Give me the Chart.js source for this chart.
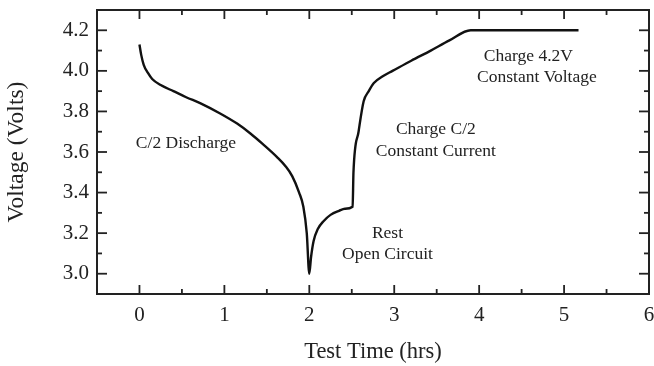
<!DOCTYPE html>
<html>
<head>
<meta charset="utf-8">
<script src="https://cdn.jsdelivr.net/npm/chart.js@4/dist/chart.umd.min.js"></script>
<style>
  html, body { margin: 0; padding: 0; background: #fff; }
  #wrap { width: 654px; height: 366px; }
</style>
</head>
<body>
<div id="wrap"><canvas id="c" width="654" height="366"></canvas></div>
<script>
// ---- data ----
const timeHrs = [0, 0.02, 0.05, 0.1, 0.15, 0.25, 0.4, 0.55, 0.72, 0.95, 1.15, 1.31, 1.45, 1.62, 1.72, 1.8, 1.88, 1.93, 1.97, 2.0,
                 2.02, 2.05, 2.1, 2.17, 2.25, 2.35, 2.42, 2.51, 2.52, 2.58, 2.64, 2.7, 2.76, 2.87, 2.98, 3.2, 3.43, 3.65, 3.9, 5.17];
const voltage = [4.13, 4.08, 4.03, 3.99, 3.96, 3.93, 3.90, 3.87, 3.84, 3.79, 3.74, 3.69, 3.64, 3.575, 3.53, 3.48, 3.40, 3.33, 3.2, 3.0,
                 3.08, 3.16, 3.22, 3.26, 3.29, 3.31, 3.32, 3.33, 3.50, 3.70, 3.85, 3.90, 3.94, 3.975, 4.0, 4.05, 4.10, 4.15, 4.2, 4.2];
const xTickValues = [0, 1, 2, 3, 4, 5, 6];
const yTickValues = [3.0, 3.2, 3.4, 3.6, 3.8, 4.0, 4.2];
const noteTexts = ['C/2 Discharge', 'Rest', 'Open Circuit', 'Charge C/2', 'Constant Current', 'Charge 4.2V', 'Constant Voltage'];
const noteX = [0.548, 2.92, 2.92, 3.49, 3.49, 4.58, 4.68];
const noteY = [3.643, 3.20, 3.094, 3.712, 3.603, 4.072, 3.966];

const INK = '#222';
const SERIF = '"Liberation Serif", "Times New Roman", serif';

const frameTicks = {
  id: 'frameTicks',
  afterDatasetsDraw(chart) {
    const { ctx, chartArea: a, scales: { x, y } } = chart;
    ctx.save();
    ctx.strokeStyle = INK;
    ctx.lineWidth = 2;
    ctx.beginPath();
    ctx.rect(a.left, a.top, a.right - a.left, a.bottom - a.top);
    ctx.stroke();
    ctx.lineWidth = 1.8;
    const seg = (x1, y1, x2, y2) => { ctx.beginPath(); ctx.moveTo(x1, y1); ctx.lineTo(x2, y2); ctx.stroke(); };
    const xs = [];
    xTickValues.forEach(v => xs.push([v, true]));
    xs.push([xTickValues[0] - 0.5, false]);
    for (let i = 0; i < xTickValues.length - 1; i++) xs.push([(xTickValues[i] + xTickValues[i + 1]) / 2, false]);
    xs.forEach(([v, major]) => {
      const px = x.getPixelForValue(v);
      if (px < a.left - 0.5 || px > a.right + 0.5) return;
      const L = major ? 9 : 5;
      seg(px, a.bottom, px, a.bottom - L);
      seg(px, a.top, px, a.top + L);
    });
    const ys = [];
    yTickValues.forEach(v => ys.push([v, true]));
    for (let i = 0; i < yTickValues.length - 1; i++) ys.push([(yTickValues[i] + yTickValues[i + 1]) / 2, false]);
    ys.push([yTickValues[yTickValues.length - 1] + 0.1, false]);
    ys.forEach(([v, major]) => {
      const py = y.getPixelForValue(v);
      if (py < a.top - 0.5 || py > a.bottom + 0.5) return;
      const L = major ? 10 : 5;
      seg(a.left, py, a.left + L, py);
      seg(a.right, py, a.right - L, py);
    });
    ctx.fillStyle = INK;
    ctx.font = '17.5px ' + SERIF;
    ctx.textAlign = 'center';
    ctx.textBaseline = 'middle';
    noteTexts.forEach((t, i) => ctx.fillText(t, x.getPixelForValue(noteX[i]), y.getPixelForValue(noteY[i])));
    ctx.restore();
  }
};

new Chart(document.getElementById('c'), {
  type: 'line',
  data: {
    datasets: [{
      data: timeHrs.map((t, i) => ({ x: t, y: voltage[i] })),
      borderColor: '#111',
      borderWidth: 2.4,
      pointRadius: 0,
      cubicInterpolationMode: 'monotone',
      fill: false
    }]
  },
  options: {
    responsive: false,
    animation: false,
    devicePixelRatio: 1,
    layout: { padding: { top: 10, right: 5, left: 0, bottom: 0 } },
    plugins: { legend: { display: false }, tooltip: { enabled: false } },
    scales: {
      x: {
        type: 'linear',
        min: -0.5, max: 6,
        afterBuildTicks: s => { s.ticks = xTickValues.map(v => ({ value: v })); },
        afterFit: s => { s.height = 72; s.paddingLeft = 0; s.paddingRight = 0; },
        grid: { display: false, drawTicks: false },
        border: { display: false },
        ticks: { color: INK, font: { family: SERIF, size: 21 }, padding: 9, maxRotation: 0, callback: v => String(v) },
        title: { display: true, text: 'Test Time (hrs)', color: INK, font: { family: SERIF, size: 22.5 }, padding: { top: 0, bottom: 0 } }
      },
      y: {
        type: 'linear',
        min: 2.9, max: 4.3,
        afterBuildTicks: s => { s.ticks = yTickValues.map(v => ({ value: v })); },
        afterFit: s => { s.width = 97; s.paddingTop = 0; s.paddingBottom = 0; },
        grid: { display: false, drawTicks: false },
        border: { display: false },
        ticks: { color: INK, font: { family: SERIF, size: 21 }, padding: 8, callback: v => Number(v).toFixed(1) },
        title: { display: true, text: 'Voltage (Volts)', color: INK, font: { family: SERIF, size: 23.5 }, padding: { top: 3, bottom: 0 } }
      }
    }
  },
  plugins: [frameTicks]
});
</script>
</body>
</html>
